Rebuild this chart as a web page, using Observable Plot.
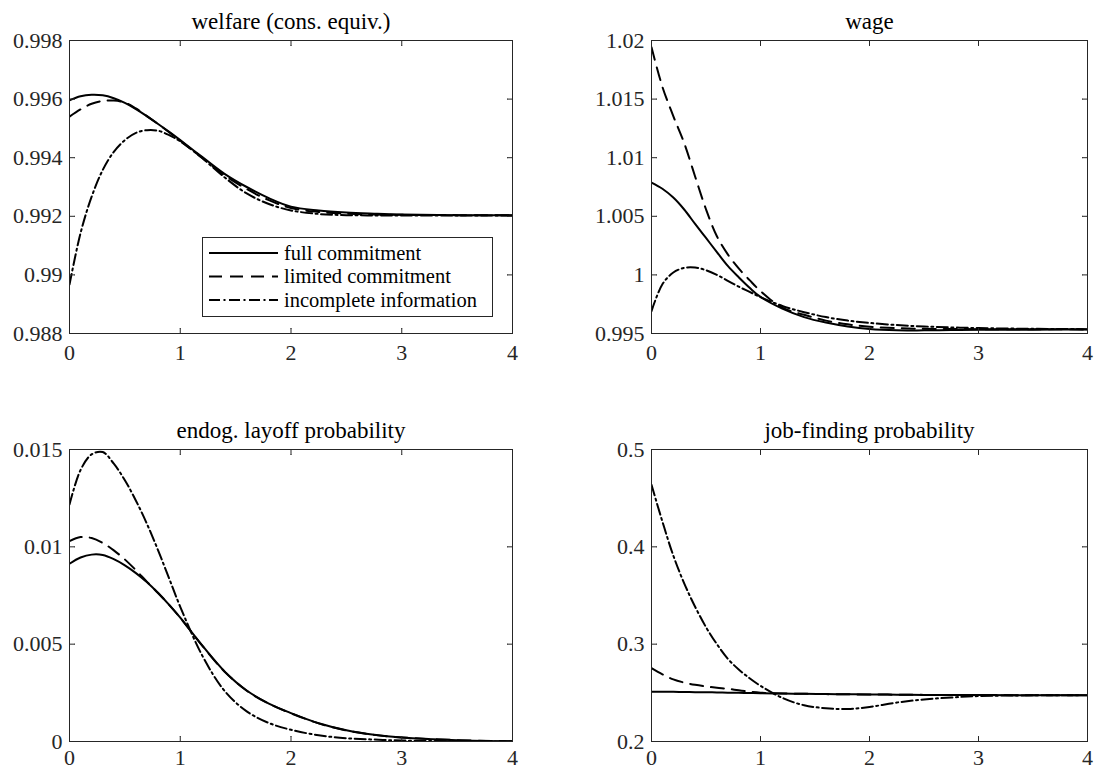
<!DOCTYPE html>
<html><head><meta charset="utf-8">
<script src="https://cdn.jsdelivr.net/npm/d3@7"></script>
<script src="https://cdn.jsdelivr.net/npm/@observablehq/plot@0.6"></script>
<style>
html,body{margin:0;padding:0;background:#fff;overflow:hidden;}
#chart{position:relative;width:1094px;height:769px;overflow:hidden;background:#fff;font-family:'Liberation Serif','DejaVu Serif',serif;}
#chart > svg{position:absolute;}
#chart text{font-family:'Liberation Serif','DejaVu Serif',serif !important;}
</style></head><body><div id="chart"></div>
<script>
// time axis (years)
const t = [0,0.1,0.2,0.3,0.4,0.5,0.6,0.7,0.8,0.9,1.0,1.2,1.4,1.6,1.8,2.0,2.25,2.5,2.75,3.0,3.5,4.0];
const seriesNames = ["full commitment","limited commitment","incomplete information"];

// welfare (cons. equiv.)
const welfareFull       = [0.99596,0.99610,0.99615,0.99613,0.99603,0.99587,0.99566,0.99541,0.99515,0.99488,0.99460,0.99402,0.99345,0.99300,0.99262,0.99233,0.99220,0.99213,0.99209,0.99206,0.99204,0.99204];
const welfareLimited    = [0.99540,0.99565,0.99584,0.99594,0.99595,0.99588,0.99568,0.99542,0.99515,0.99487,0.99458,0.99399,0.99340,0.99293,0.99255,0.99228,0.99215,0.99209,0.99206,0.99205,0.99204,0.99204];
const welfareIncomplete = [0.98967,0.99143,0.99267,0.99358,0.99420,0.99460,0.99485,0.99494,0.99492,0.99477,0.99456,0.99398,0.99333,0.99278,0.99242,0.99220,0.99208,0.99204,0.99203,0.99203,0.99203,0.99203];

// wage
const wageFull       = [1.00788,1.00735,1.00660,1.00558,1.00435,1.00315,1.00195,1.00077,0.99980,0.99890,0.99812,0.99712,0.99640,0.99593,0.99560,0.99538,0.99527,0.99527,0.99529,0.99531,0.99533,0.99535];
const wageLimited    = [1.01943,1.01605,1.01355,1.01125,1.00840,1.00560,1.00330,1.00175,1.00055,0.99955,0.99862,0.99720,0.99660,0.99610,0.99578,0.99558,0.99546,0.99540,0.99538,0.99537,0.99536,0.99535];
const wageIncomplete = [0.99691,0.99920,1.00020,1.00060,1.00063,1.00040,1.00000,0.99950,0.99900,0.99855,0.99810,0.99735,0.99682,0.99640,0.99610,0.99590,0.99572,0.99560,0.99552,0.99546,0.99540,0.99537];

// endog. layoff probability
const layoffFull       = [0.00913,0.00945,0.00960,0.00958,0.00937,0.00905,0.00865,0.00818,0.00763,0.00702,0.00636,0.00492,0.00360,0.00262,0.00195,0.00146,0.00094,0.00058,0.00035,0.00021,0.00007,0.00001];
const layoffLimited    = [0.01029,0.01050,0.01045,0.01020,0.00982,0.00935,0.00880,0.00820,0.00763,0.00702,0.00636,0.00491,0.00359,0.00261,0.00194,0.00145,0.00093,0.00057,0.00034,0.00021,0.00007,0.00001];
const layoffIncomplete = [0.01217,0.01395,0.01475,0.01487,0.01427,0.01342,0.01237,0.01117,0.00982,0.00837,0.00692,0.00440,0.00260,0.00155,0.00095,0.00060,0.00032,0.00017,0.00010,0.00005,0.00001,0.00000];

// job-finding probability
const jobFull       = [0.2512,0.2511,0.2510,0.2509,0.2507,0.2506,0.2504,0.2502,0.2500,0.2498,0.2496,0.2493,0.2490,0.2487,0.2485,0.2483,0.2481,0.2479,0.2478,0.2477,0.2476,0.2475];
const jobLimited    = [0.2753,0.2690,0.2638,0.2605,0.2582,0.2565,0.2552,0.2541,0.2526,0.2512,0.2502,0.2494,0.2490,0.2487,0.2485,0.2483,0.2481,0.2479,0.2478,0.2477,0.2476,0.2475];
const jobIncomplete = [0.4637,0.4260,0.3910,0.3625,0.3385,0.3175,0.3000,0.2850,0.2740,0.2650,0.2572,0.2448,0.2372,0.2342,0.2334,0.2355,0.2400,0.2432,0.2452,0.2467,0.2474,0.2475];

// tick values
const xTicks = [0,1,2,3,4];
const welfareTicks = [0.988,0.99,0.992,0.994,0.996,0.998];
const wageTicks = [0.995,1,1.005,1.01,1.015,1.02];
const layoffTicks = [0,0.005,0.01,0.015];
const jobTicks = [0.2,0.3,0.4,0.5];

const dashes = [null, "13,8", "11,3.5,2,3.5"];
const FONT = "Liberation Serif, DejaVu Serif, serif";
const AX = "#262626";
const fmt = d => String(Math.round(d * 1e6) / 1e6);

function panel({title, ys, yDomain, yTicks, left, top, marginLeft, marginRight, marginTop, marginBottom, height, xPad}) {
  const data = [];
  ys.forEach((arr, si) => arr.forEach((v, i) => data.push({t: t[i], v, s: seriesNames[si]})));
  const lines = seriesNames.map((name, si) => Plot.line(data.filter(d => d.s === name), {
    x: "t", y: "v", stroke: "#000", strokeWidth: 2, strokeDasharray: dashes[si], curve: "catmull-rom", clip: true
  }));
  const tickStyle = {stroke: AX, strokeWidth: 1, length: 5, anchor: "start", r: 0};
  const p = Plot.plot({
    width: 547, height, marginLeft, marginRight, marginTop, marginBottom,
    x: {domain: [0, 4]},
    y: {domain: yDomain},
    style: {fontFamily: FONT, fontSize: "22px", color: AX, background: "transparent", overflow: "visible"},
    marks: [
      ...lines,
      Plot.vector(xTicks, {x: d => d, frameAnchor: "bottom", rotate: 0, ...tickStyle}),
      Plot.vector(xTicks, {x: d => d, frameAnchor: "top", rotate: 180, ...tickStyle}),
      Plot.vector(yTicks, {y: d => d, frameAnchor: "left", rotate: 90, ...tickStyle}),
      Plot.vector(yTicks, {y: d => d, frameAnchor: "right", rotate: -90, ...tickStyle}),
      Plot.frame({stroke: AX, strokeWidth: 1}),
      Plot.axisX(xTicks, {tickSize: 0, tickPadding: xPad, label: null, tickFormat: fmt, fontSize: 22, fill: AX, fontFamily: FONT}),
      Plot.axisY(yTicks, {tickSize: 0, tickPadding: 7, label: null, tickFormat: fmt, fontSize: 22, fill: AX, fontFamily: FONT}),
      Plot.text([title], {text: d => d, frameAnchor: "top", dy: -12, lineAnchor: "bottom", fontSize: 23, fill: "#000", fontFamily: FONT})
    ]
  });
  p.style.left = left + "px";
  p.style.top = top + "px";
  return p;
}

const chart = document.getElementById("chart");
chart.appendChild(panel({title: "welfare (cons. equiv.)", ys: [welfareFull, welfareLimited, welfareIncomplete], yDomain: [0.988, 0.998], yTicks: welfareTicks,
  left: 0, top: 0, marginLeft: 69, marginRight: 35, marginTop: 40, marginBottom: 36, height: 369, xPad: 11}));
chart.appendChild(panel({title: "wage", ys: [wageFull, wageLimited, wageIncomplete], yDomain: [0.995, 1.02], yTicks: wageTicks,
  left: 547, top: 0, marginLeft: 104, marginRight: 7, marginTop: 40, marginBottom: 36, height: 369, xPad: 11}));
chart.appendChild(panel({title: "endog. layoff probability", ys: [layoffFull, layoffLimited, layoffIncomplete], yDomain: [0, 0.015], yTicks: layoffTicks,
  left: 0, top: 380, marginLeft: 69, marginRight: 35, marginTop: 69, marginBottom: 28, height: 389, xPad: 8}));
chart.appendChild(panel({title: "job-finding probability", ys: [jobFull, jobLimited, jobIncomplete], yDomain: [0.2, 0.5], yTicks: jobTicks,
  left: 547, top: 380, marginLeft: 104, marginRight: 7, marginTop: 69, marginBottom: 28, height: 389, xPad: 8}));

// legend (top-left panel)
const lg = d3.select(chart).append("svg")
  .attr("width", 292).attr("height", 81)
  .style("left", "202px").style("top", "237px")
  .style("font-family", FONT);
lg.append("rect").attr("x", 0.5).attr("y", 0.5).attr("width", 290).attr("height", 79)
  .attr("fill", "#fff").attr("stroke", AX).attr("stroke-width", 1);
seriesNames.forEach((name, i) => {
  const y = 16 + i * 23.5;
  lg.append("line").attr("x1", 7).attr("x2", 76).attr("y1", y).attr("y2", y)
    .attr("stroke", "#000").attr("stroke-width", 2)
    .attr("stroke-dasharray", dashes[i]);
  lg.append("text").attr("x", 82).attr("y", y).attr("dy", "0.32em")
    .attr("font-size", 20.5).attr("fill", "#000").attr("font-family", FONT).text(name);
});
</script></body></html>
